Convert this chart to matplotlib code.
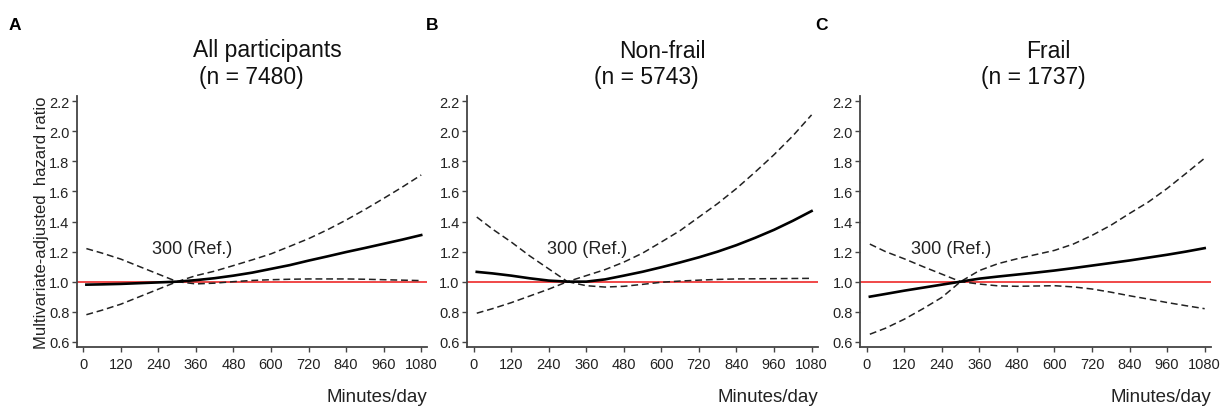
import matplotlib
matplotlib.use("Agg")
import matplotlib.pyplot as plt

plt.rcParams['font.family'] = ['Liberation Sans', 'DejaVu Sans']

# Minutes/day at which the curves were read
minutes = [10, 60, 120, 180, 240, 300, 360, 420, 480, 540,
           600, 660, 720, 780, 840, 900, 960, 1020, 1080]

# A: all participants
all_hr = [0.98, 0.982, 0.985, 0.99, 0.995, 1.0, 1.01, 1.023, 1.04, 1.06,
          1.085, 1.11, 1.14, 1.168, 1.197, 1.224, 1.252, 1.28, 1.31]
all_ci1 = [1.22, 1.19, 1.15, 1.10, 1.05, 1.0, 1.04, 1.07, 1.107, 1.145,
           1.185, 1.235, 1.286, 1.345, 1.41, 1.48, 1.554, 1.63, 1.71]
all_ci2 = [0.78, 0.81, 0.85, 0.90, 0.95, 1.0, 0.985, 0.99, 1.0, 1.008,
           1.013, 1.016, 1.018, 1.018, 1.018, 1.016, 1.013, 1.01, 1.007]

# B: non-frail
nf_hr = [1.065, 1.055, 1.04, 1.022, 1.007, 1.0, 1.0, 1.015, 1.04, 1.066,
         1.096, 1.128, 1.162, 1.20, 1.243, 1.292, 1.345, 1.405, 1.47]
nf_ci1 = [1.43, 1.35, 1.264, 1.17, 1.085, 1.0, 1.04, 1.08, 1.13, 1.19,
          1.264, 1.34, 1.43, 1.52, 1.62, 1.73, 1.845, 1.97, 2.11]
nf_ci2 = [0.79, 0.82, 0.86, 0.905, 0.95, 1.0, 0.973, 0.964, 0.969, 0.982,
          0.996, 1.004, 1.01, 1.015, 1.018, 1.019, 1.02, 1.021, 1.022]

# C: frail
fr_hr = [0.90, 0.918, 0.94, 0.96, 0.98, 1.0, 1.02, 1.034, 1.047, 1.06,
         1.074, 1.09, 1.107, 1.124, 1.141, 1.16, 1.179, 1.2, 1.223]
fr_ci1 = [0.65, 0.69, 0.75, 0.82, 0.895, 1.0, 1.074, 1.12, 1.152, 1.18,
          1.208, 1.25, 1.308, 1.375, 1.454, 1.53, 1.62, 1.72, 1.822]
fr_ci2 = [1.25, 1.2, 1.152, 1.10, 1.05, 1.0, 0.984, 0.972, 0.969, 0.971,
          0.973, 0.965, 0.951, 0.93, 0.906, 0.884, 0.861, 0.84, 0.82]

panel_letters = ["A", "B", "C"]
group_names = ["All participants", "Non-frail", "Frail"]
group_n = ["(n = 7480)", "(n = 5743)", "(n = 1737)"]
series = [(all_hr, all_ci1, all_ci2), (nf_hr, nf_ci1, nf_ci2), (fr_hr, fr_ci1, fr_ci2)]
ref_label = "300 (Ref.)"
ref_pos = [(220, 1.22), (233, 1.22), (140, 1.22)]
x_ticks = list(range(0, 1081, 120))
y_ticks = [0.6, 0.8, 1.0, 1.2, 1.4, 1.6, 1.8, 2.0, 2.2]

fig = plt.figure(figsize=(12.28, 4.10), dpi=100)
lefts = [0.0627, 0.3806, 0.7007]
letter_x = [15, 432, 822]
name_x = [267, 662, 1048]
n_x = [251, 646, 1033]

for i in range(3):
    ax = fig.add_axes([lefts[i], 0.1512, 0.2854, 0.612])
    hr, ci1, ci2 = series[i]
    ax.axhline(1.0, color="#f04848", lw=1.4, zorder=1)
    ax.plot(minutes, ci1, color="#222222", lw=1.1, ls=(0, (4.5, 2.5)), zorder=2)
    ax.plot(minutes, ci2, color="#222222", lw=1.1, ls=(0, (4.5, 2.5)), zorder=2)
    ax.plot(minutes, hr, color="black", lw=1.9, zorder=3)
    ax.text(ref_pos[i][0], ref_pos[i][1], ref_label, fontsize=13,
            color="#222222", va="center", ha="left")

    ax.set_xlim(-20, 1100)
    ax.set_ylim(0.565, 2.235)
    ax.set_xticks(x_ticks)
    ax.set_yticks(y_ticks)
    ax.set_yticklabels([f"{v:.1f}" for v in y_ticks])
    ax.spines["top"].set_visible(False)
    ax.spines["right"].set_visible(False)
    for s in ["left", "bottom"]:
        ax.spines[s].set_color("#444444")
        ax.spines[s].set_linewidth(1.3)
    ax.tick_params(direction="out", length=3.5, width=1, color="#444444",
                   labelcolor="#222222", pad=2)
    ax.tick_params(axis="y", labelsize=10.5)
    ax.tick_params(axis="x", labelsize=10.5, pad=4)
    for lab in ax.get_xticklabels():
        lab.set_family(['Liberation Sans Narrow', 'Liberation Sans'])

    if i == 0:
        ax.set_ylabel("Multivariate-adjusted  hazard ratio", fontsize=12,
                      color="#222222", labelpad=0)

    fig.text(letter_x[i] / 1228, 1 - 25 / 410, panel_letters[i], fontsize=12.5,
             fontweight="bold", ha="center", va="center")
    fig.text(name_x[i] / 1228, 1 - 51 / 410, group_names[i], fontsize=16.5,
             ha="center", va="center", color="#111111")
    fig.text(n_x[i] / 1228, 1 - 78 / 410, group_n[i], fontsize=16.5,
             ha="center", va="center", color="#111111")
    ax.text(1.0, -0.165, "Minutes/day", transform=ax.transAxes, fontsize=13.5,
            ha="right", va="top", color="#222222")

fig.savefig("out.png", dpi=100)
